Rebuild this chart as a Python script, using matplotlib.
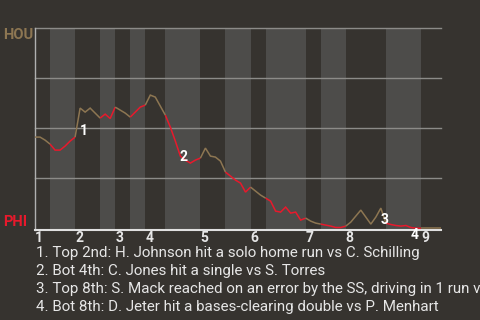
import matplotlib
matplotlib.use("Agg")
import matplotlib.pyplot as plt
import numpy as np

# ---- data ----
innings = ["1", "2", "3", "4", "5", "6", "7", "8", "9"]
# plate appearances per half inning (top 1st, bot 1st, ..., top 9th)
half_inning_pa = [3, 5, 5, 3, 3, 3, 4, 7, 5, 5, 3, 8, 3, 5, 8, 7, 4]
# HOU win probability (%) after each event (0 = PHI wins, 100 = HOU wins)
hou_wp = [45.6, 45.6, 44.1, 42.1, 39.1, 39.1, 41.1, 43.6, 45.6, 60.1,
          58.1, 60.1, 57.6, 55.1, 57.1, 54.9, 60.6, 59.1, 57.6, 55.6,
          58.1, 60.6, 61.6, 66.6, 65.6, 61.1, 56.6, 50.6, 43.6, 36.1,
          34.1, 32.6, 34.1, 35.1, 40.1, 36.1, 35.6, 33.6, 28.1, 26.1,
          24.1, 22.6, 18.1, 20.6, 18.6, 16.6, 15.1, 13.6, 8.6, 8.1,
          10.6, 7.6, 8.1, 4.1, 5.1, 3.6, 2.6, 2.1, 1.6, 1.1,
          0.4, 0.4, 1.1, 3.1, 6.1, 9.1, 5.6, 2.1, 5.6, 10.1,
          2.6, 1.9, 1.4, 1.1, 1.4, 0.4, 0.1, 0.0, 0.0, 0.0,
          0.0, 0.0]
label_event = [9, 29, 69, 75]
label_top = [52.3, 39.2, 7.5, 0.0]
label_text = ["1", "2", "3", "4"]
notes = [
    "1. Top 2nd: H. Johnson hit a solo home run vs C. Schilling",
    "2. Bot 4th: C. Jones hit a single vs S. Torres",
    "3. Top 8th: S. Mack reached on an error by the SS, driving in 1 run vs P. Menhart",
    "4. Bot 8th: D. Jeter hit a bases-clearing double vs P. Menhart",
]
away, home = "HOU", "PHI"

# ---- style ----
BG = "#36332f"
BAND = "#4d4c4a"
GRID = "#8c8b88"
BROWN = "#8d7652"
RED = "#e8192c"
TXT = "#e6e6e6"

fig = plt.figure(figsize=(4.8, 3.2), dpi=100, facecolor=BG)
W, H = 480, 320
ax = fig.add_axes([35 / W, (H - 230) / H, 406 / W, (230 - 28.3) / H])
ax.set_facecolor(BG)

bounds = np.concatenate([[0], np.cumsum(half_inning_pa)])
total = bounds[-1]
ax.set_xlim(0, total)
ax.set_ylim(-0.85, 100)

# shaded bottom halves
for i in range(len(half_inning_pa)):
    if i % 2 == 1:
        ax.axvspan(bounds[i], bounds[i + 1], color=BAND, lw=0, zorder=0)

for g in [25, 50, 75, 100]:
    ax.axhline(g, color=GRID, lw=1.0, zorder=1, clip_on=False)

x = np.arange(len(hou_wp))
y = np.array(hou_wp)
for i in range(len(half_inning_pa)):
    a, b = bounds[i], bounds[i + 1]
    ax.plot(x[a:b + 1], y[a:b + 1], color=BROWN if i % 2 == 0 else RED,
            lw=1.1, zorder=3, solid_capstyle="butt", solid_joinstyle="miter")

for xi, yt, t in zip(label_event, label_top, label_text):
    ax.text(xi - 0.1, yt, t, ha="left", va="top", color="white",
            fontsize=10, fontweight="bold", family="Roboto", zorder=5)

for s in ["top", "right"]:
    ax.spines[s].set_visible(False)
ax.spines["left"].set_color("#b0b0b0")
ax.spines["left"].set_linewidth(1.0)
ax.spines["bottom"].set_color("#e0e0e0")
ax.spines["bottom"].set_linewidth(1.5)

ax.set_yticks([])
inning_starts = bounds[0:len(bounds) - 1:2]
ax.set_xticks(inning_starts)
ax.set_xticklabels(innings, ha="left", fontsize=10, fontweight="bold",
                   family="Roboto", color=TXT)
ax.tick_params(axis="x", length=0, pad=0.5)

fig.text(2.7 / W, (H - 39.3) / H, away, color=BROWN, fontsize=10.5,
         fontweight="bold", family="Roboto", va="baseline", ha="left")
fig.text(2.7 / W, (H - 226) / H, home, color=RED, fontsize=10.5,
         fontweight="bold", family="Roboto", va="baseline", ha="left")

note_artists = []
for k, n in enumerate(notes):
    t = fig.text(36 / W, (H - (257.4 + 18 * k)) / H, n, color=TXT, fontsize=10,
                 family="Roboto", va="baseline", ha="left")
    note_artists.append(t)

# fit note font size so the first note spans its measured width (386 px)
fig.canvas.draw()
r = fig.canvas.get_renderer()
w0 = note_artists[0].get_window_extent(r).width
fs = 10 * 386.0 / w0
for t in note_artists:
    t.set_fontsize(fs)

fig.savefig("out.png", dpi=100, facecolor=BG)
